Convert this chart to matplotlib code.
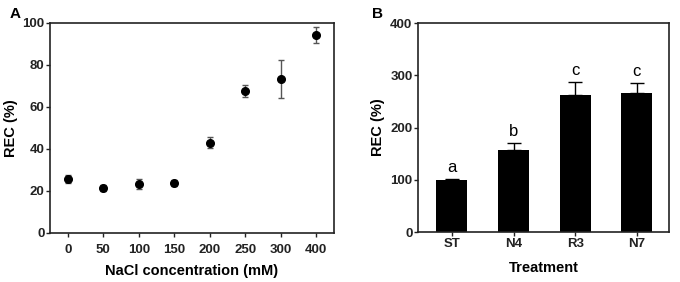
import numpy as np
import matplotlib.pyplot as plt

plt.rcParams['font.family'] = ['Liberation Sans', 'DejaVu Sans']
plt.rcParams['font.weight'] = 'bold'

# panel A data
nacl_labels = ['0', '50', '100', '150', '200', '250', '300', '400']
rec_a = [25.8, 21.4, 23.3, 23.7, 43.0, 67.6, 73.3, 94.0]
err_a = [2.0, 1.5, 2.5, 1.5, 2.5, 3.0, 9.0, 3.8]

# panel B data
treatments = ['ST', 'N4', 'R3', 'N7']
rec_b = [100, 158, 263, 266]
err_b = [2, 13, 24, 19]
letters = ['a', 'b', 'c', 'c']


def style_axes(ax):
    for s in ax.spines.values():
        s.set_linewidth(1.2)
        s.set_color('#222222')
    ax.tick_params(direction='out', length=3, width=1, pad=1, labelsize=9.5,
                   colors='#222222')


def main():
    fig = plt.figure(figsize=(6.8, 2.82), dpi=100)
    axA = fig.add_axes([0.0735, 0.174, 0.4175, 0.745])
    axB = fig.add_axes([0.6147, 0.177, 0.369, 0.741])

    # A
    x = np.arange(len(nacl_labels))
    axA.errorbar(x, rec_a, yerr=err_a, fmt='o', color='black', ms=5.5,
                 ecolor='#555555', elinewidth=1, capsize=2.5, capthick=1)
    axA.set_xlim(-0.5, 7.5)
    axA.set_ylim(0, 100)
    axA.set_yticks(np.arange(0, 101, 20))
    axA.set_xticks(x)
    axA.set_xticklabels(nacl_labels)
    axA.set_xlabel('NaCl concentration (mM)', fontsize=10.5, fontweight='bold', labelpad=6)
    axA.set_ylabel('REC (%)', fontsize=10.5, fontweight='bold', labelpad=3)
    style_axes(axA)
    axA.tick_params(axis='x', pad=5)

    # B
    xb = np.arange(len(treatments))
    axB.bar(xb, rec_b, width=0.5, color='black')
    axB.errorbar(xb, rec_b, yerr=[np.zeros(len(err_b)), err_b], fmt='none',
                 ecolor='black', elinewidth=1, capsize=5, capthick=1)
    for xi, v, e, t in zip(xb, rec_b, err_b, letters):
        axB.text(xi, v + e + 22, t, ha='center', va='center', fontsize=12,
                 fontweight='normal')
    axB.set_xlim(-0.55, 3.52)
    axB.set_ylim(0, 400)
    axB.set_yticks(np.arange(0, 401, 100))
    axB.set_xticks(xb)
    axB.set_xticklabels(treatments)
    axB.set_xlabel('Treatment', fontsize=10.5, fontweight='bold', labelpad=8)
    axB.set_ylabel('REC (%)', fontsize=10.5, fontweight='bold', labelpad=4)
    style_axes(axB)

    fig.text(0.022, 0.95, 'A', fontsize=11, fontweight='bold', ha='center', va='center')
    fig.text(0.555, 0.95, 'B', fontsize=11, fontweight='bold', ha='center', va='center')

    fig.savefig('out.png', dpi=100)


if __name__ == "__main__":
    main()
